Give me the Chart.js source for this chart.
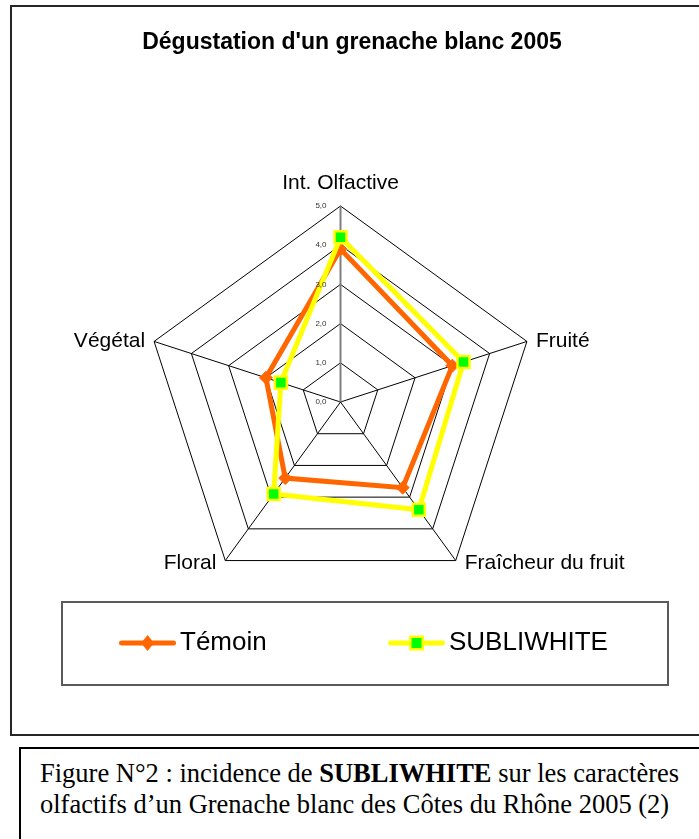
<!DOCTYPE html>
<html lang="fr">
<head>
<meta charset="utf-8">
<title>Dégustation d'un grenache blanc 2005</title>
<script src="https://cdn.jsdelivr.net/npm/chart.js@4.4.1/dist/chart.umd.min.js"></script>
<style>
  html, body { margin: 0; padding: 0; background: #fff; }
  body { position: relative; width: 699px; height: 839px; overflow: hidden; }
  #frame { position: absolute; left: 10px; top: 5px; width: 720px; height: 731px; border: 2px solid #262626; box-sizing: border-box; }
  #legendBox { position: absolute; left: 61px; top: 601px; width: 608px; height: 85px; border: 2px solid #5a5a5a; box-sizing: border-box; }
  #chartWrap { position: absolute; left: 0; top: 0; width: 699px; height: 740px; }
  #caption { position: absolute; left: 19px; top: 747px; width: 720px; height: 120px; border: 2.5px solid #000; box-sizing: border-box;
             font-family: "Liberation Serif", "Times New Roman", serif; font-size: 26.5px; line-height: 31px; color: #000;
             padding: 9px 0 0 19px; white-space: nowrap; }
</style>
</head>
<body>
<div id="frame"></div>
<div id="legendBox"></div>
<div id="chartWrap"><canvas id="c" width="699" height="740"></canvas></div>
<div id="caption">Figure N°2 : incidence de <b>SUBLIWHITE</b> sur les caractères<br>olfactifs d’un Grenache blanc des Côtes du Rhône 2005 (2)</div>
<script>
// ---- data ----
const categories = ['Int. Olfactive', 'Fruité', 'Fraîcheur du fruit', 'Floral', 'Végétal'];
const temoinValues = [3.9, 3.0, 2.7, 2.4, 2.0];
const subliwhiteValues = [4.2, 3.3, 3.4, 2.9, 1.6];
const seriesNames = ['Témoin', 'SUBLIWHITE'];
const tickLabels = ['0,0', '1,0', '2,0', '3,0', '4,0', '5,0'];
const chartTitle = "Dégustation d'un grenache blanc 2005";

// ---- style ----
const FONT = '"Liberation Sans", Arial, Helvetica, sans-serif';
const ORANGE = '#FF6600', YELLOW = '#FFFF00', GREEN = '#00FF00';
Chart.defaults.font.family = FONT;

function legendSwatch(kind) {
  const c = document.createElement('canvas');
  c.width = 89; c.height = 20;
  const g = c.getContext('2d');
  g.lineCap = 'round';
  g.lineWidth = 5;
  g.strokeStyle = kind === 0 ? ORANGE : YELLOW;
  g.beginPath(); g.moveTo(34.5, 10); g.lineTo(86.5, 10); g.stroke();
  const cx = 60.5;
  if (kind === 0) {
    g.fillStyle = ORANGE;
    g.beginPath(); g.moveTo(cx, 2); g.lineTo(cx + 6.5, 10); g.lineTo(cx, 18); g.lineTo(cx - 6.5, 10); g.closePath(); g.fill();
  } else {
    g.fillStyle = YELLOW; g.fillRect(cx - 7.5, 2.5, 15, 15);
    g.fillStyle = GREEN; g.fillRect(cx - 5, 5, 10, 10);
  }
  return c;
}
const swatches = [legendSwatch(0), legendSwatch(1)];

// tick labels (left of the value axis) and Excel-style category labels
const excelLabels = {
  id: 'excelLabels',
  afterDatasetsDraw(chart) {
    const s = chart.scales.r, ctx = chart.ctx;
    ctx.save();
    ctx.fillStyle = '#333';
    ctx.font = '8px ' + FONT;
    ctx.textAlign = 'right';
    ctx.textBaseline = 'middle';
    s.ticks.forEach(t => {
      ctx.fillText(t.label, s.xCenter - 14, s.yCenter - s.getDistanceFromCenterForValue(t.value));
    });
    ctx.fillStyle = '#000';
    ctx.font = '21px ' + FONT;
    chart.data.labels.forEach((lab, i) => {
      const p = s.getPointPosition(i, s.drawingArea);
      const c = Math.cos(p.angle), sn = Math.sin(p.angle);
      let x = p.x, y = p.y;
      if (Math.abs(c) < 1e-6) {
        ctx.textAlign = 'center';
        y += sn < 0 ? -23 : 23;
      } else {
        ctx.textAlign = c > 0 ? 'left' : 'right';
        x += c > 0 ? 9 : -9;
        if (sn > 0) y += 3;
      }
      ctx.fillText(lab, x, y);
    });
    ctx.restore();
  }
};

new Chart(document.getElementById('c'), {
  type: 'radar',
  data: {
    labels: categories,
    datasets: [
      { label: seriesNames[0], data: temoinValues, order: 1, fill: false, clip: false,
        borderColor: ORANGE, backgroundColor: ORANGE, borderWidth: 5,
        pointStyle: 'rectRot', pointRadius: 6.5, pointBackgroundColor: ORANGE, pointBorderColor: ORANGE, pointBorderWidth: 1 },
      { label: seriesNames[1], data: subliwhiteValues, order: 0, fill: false, clip: false,
        borderColor: YELLOW, backgroundColor: YELLOW, borderWidth: 5,
        pointStyle: 'rect', pointRadius: 8.5, pointBackgroundColor: GREEN, pointBorderColor: YELLOW, pointBorderWidth: 2.5 }
    ]
  },
  options: {
    responsive: false,
    animation: false,
    devicePixelRatio: 1,
    events: [],
    layout: { padding: { left: -6, right: -11, top: 0, bottom: 74 } },
    plugins: {
      title: { display: true, text: chartTitle, color: '#000',
               font: { family: FONT, size: 23, weight: 'bold', lineHeight: 1.2 },
               padding: { top: 29, bottom: 10 } },
      legend: {
        display: true, position: 'bottom',
        labels: {
          usePointStyle: true, pointStyleWidth: 70.9, padding: 98.4,
          font: { family: FONT, size: 26 }, color: '#000',
          generateLabels: () => seriesNames.map((n, i) => ({
            text: n, pointStyle: swatches[i], fillStyle: 'rgba(0,0,0,0)', strokeStyle: 'rgba(0,0,0,0)',
            lineWidth: 0, hidden: false, datasetIndex: i, fontColor: '#000'
          }))
        }
      },
      tooltip: { enabled: false }
    },
    scales: {
      r: {
        min: 0, max: 5,
        ticks: { stepSize: 1, display: false, callback: (v, i) => tickLabels[i] },
        pointLabels: { display: false },
        grid: { color: '#000', lineWidth: 1 },
        angleLines: { color: ctx => ctx.index === 0 ? '#7f7f7f' : '#000', lineWidth: ctx => ctx.index === 0 ? 2 : 1 },
        afterFit: s => { s.xCenter = 340.5; s.yCenter = 402; s.drawingArea = 196; }
      }
    }
  },
  plugins: [excelLabels]
});
</script>
</body>
</html>
